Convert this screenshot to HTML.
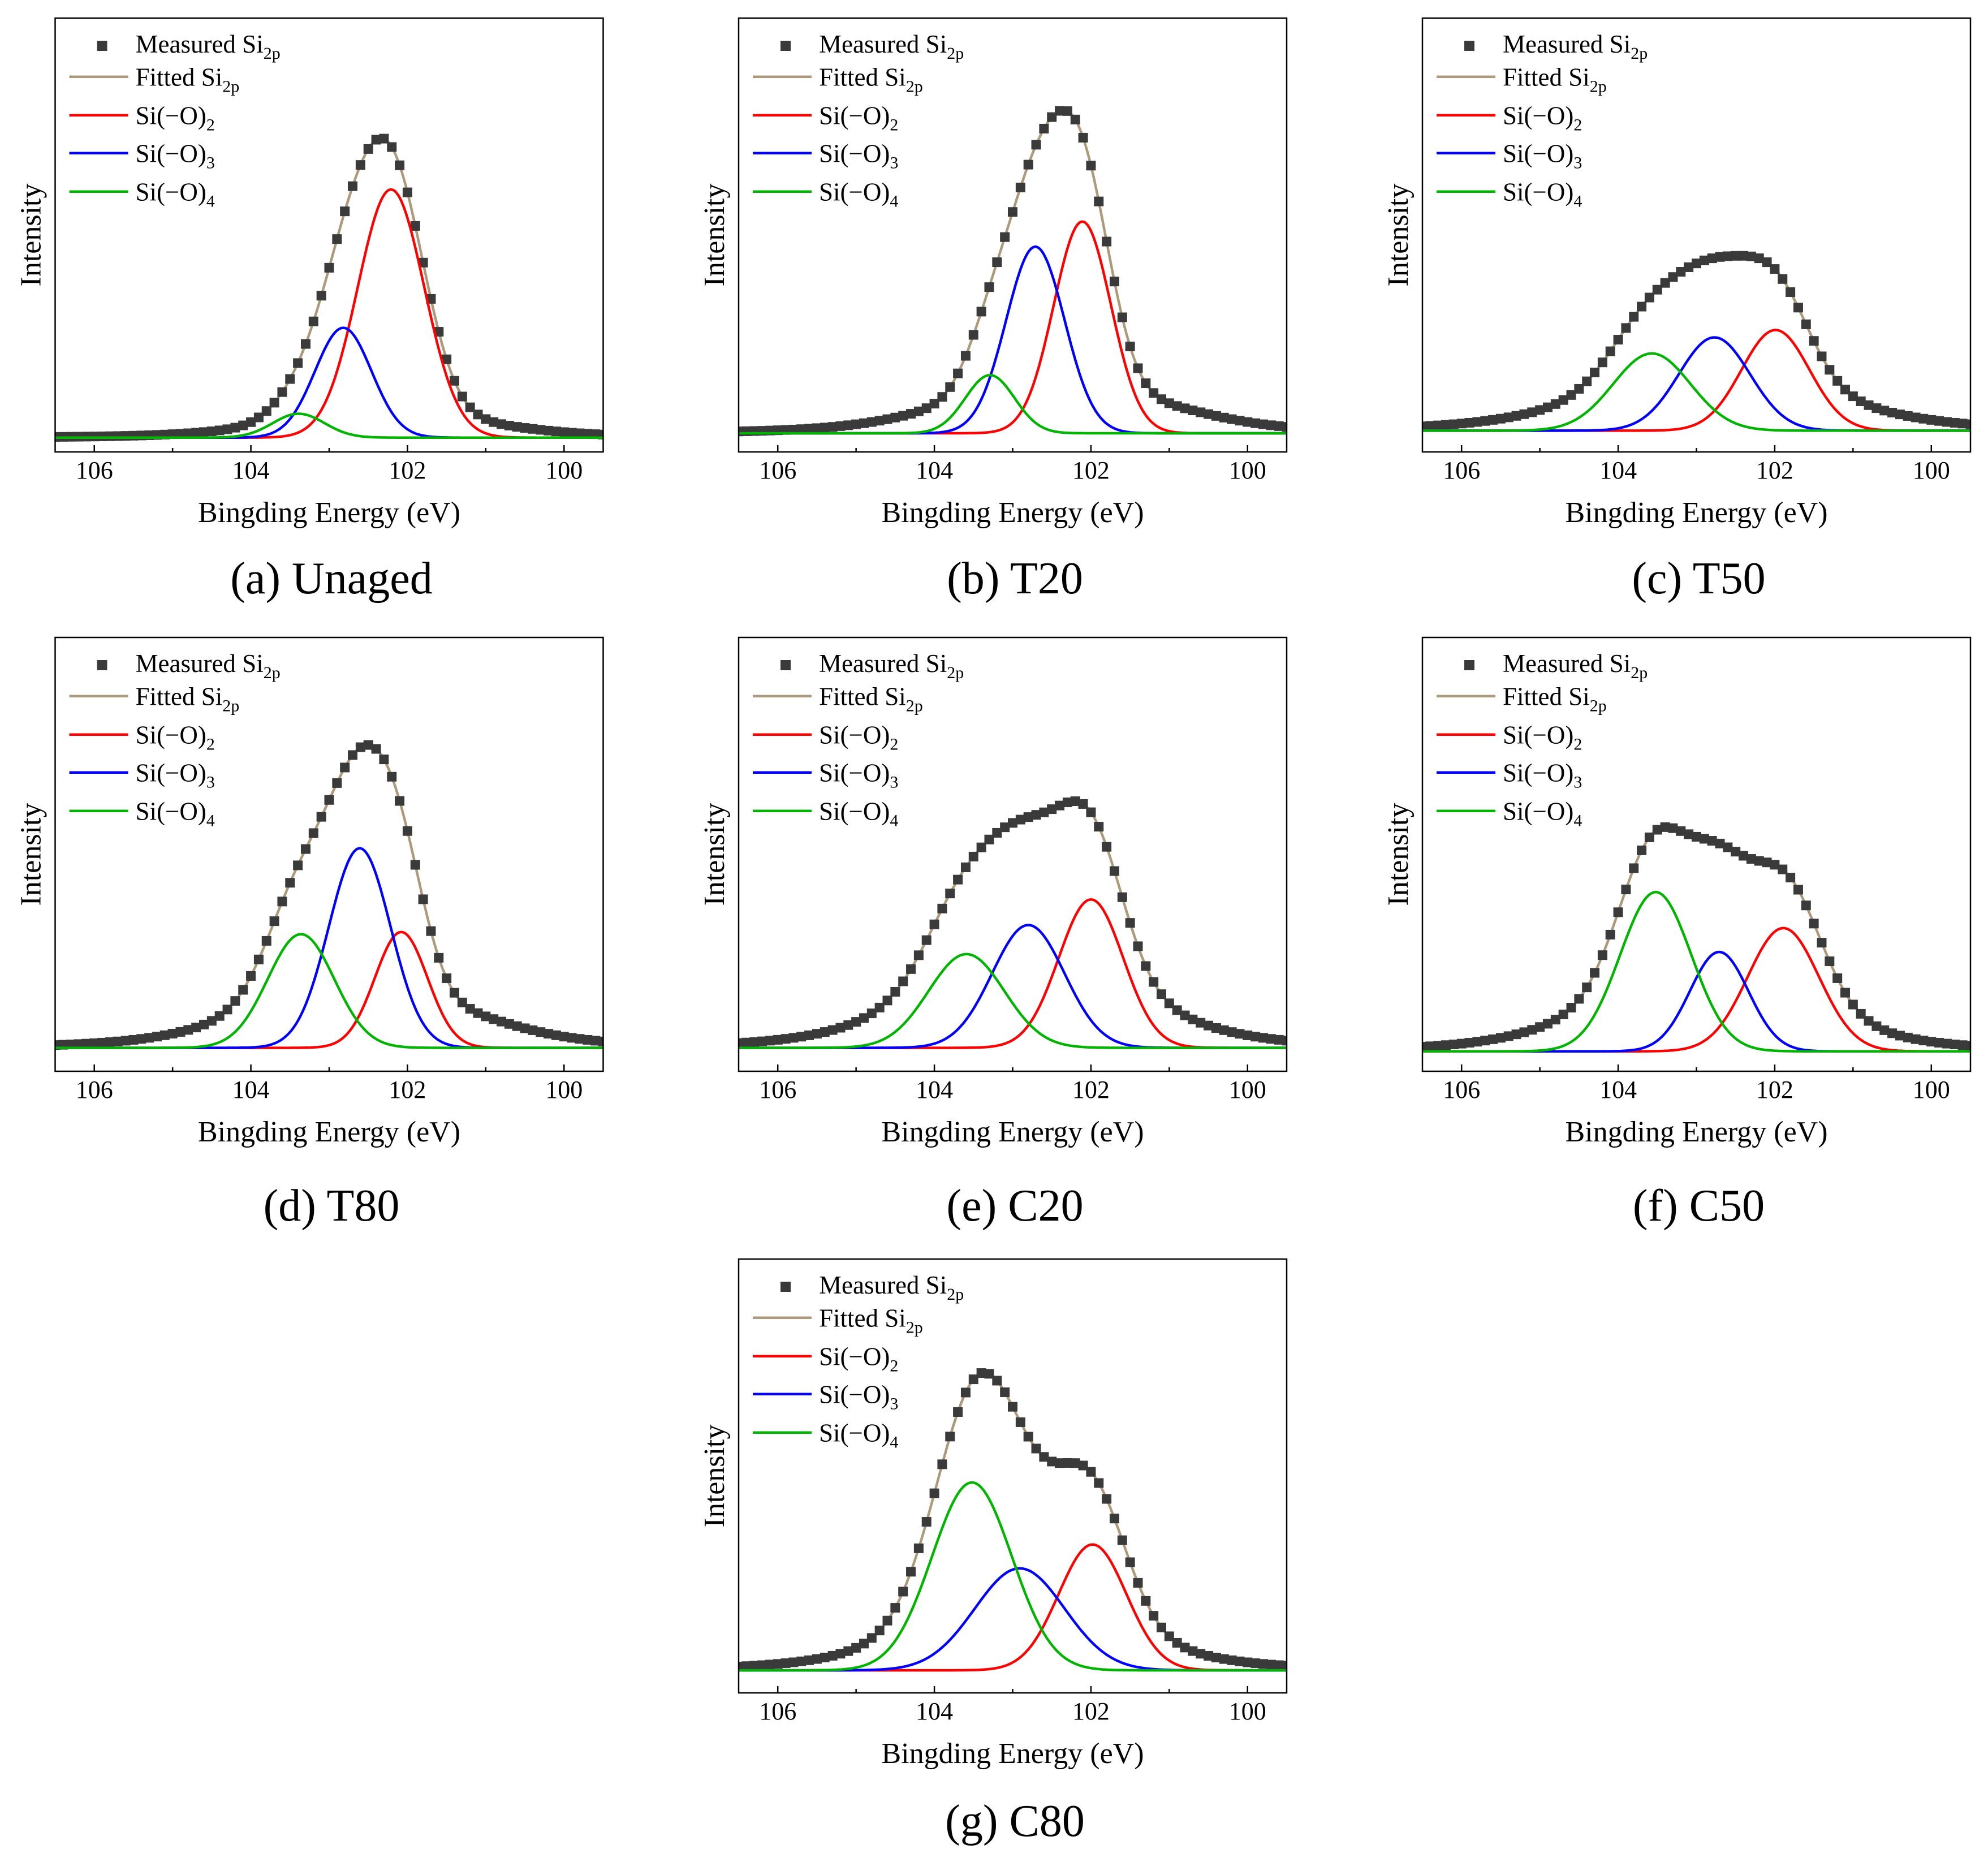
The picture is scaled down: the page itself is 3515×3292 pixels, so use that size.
<!DOCTYPE html>
<html>
<head>
<meta charset="utf-8">
<style>
html,body{margin:0;padding:0;background:#fff;}
svg{display:block;}
text{font-family:"Liberation Serif","Times New Roman",serif;fill:#000;}
</style>
</head>
<body>
<svg id="fig" width="3515" height="3292" viewBox="0 0 3515 3292" xmlns="http://www.w3.org/2000/svg">
<rect width="3515" height="3292" fill="#fff"/>
</svg>
<script>
// ---- data ----
const panelIds   = ['a','b','c','d','e','f','g'];
const captions   = ['(a) Unaged','(b) T20','(c) T50','(d) T80','(e) C20','(f) C50','(g) C80'];
const xTicks     = [106,104,102,100];
const xMinorTicks= [105,103,101];
const baseline   = [3.3, 4.3, 4.9, 5.4, 5.4, 4.6, 5.2];
// Si(-O)2 component
const redCenter  = [102.21,102.11,101.99,102.08,102.00,101.89,101.98];
const redAmp     = [57.2, 48.8, 23.2, 26.7, 34.2, 28.4, 29.0];
const redFwhm    = [1.00, 0.86, 1.02, 0.79, 0.97, 1.07, 1.02];
// Si(-O)3 component
const blueCenter = [102.82,102.71,102.77,102.61,102.80,102.71,102.91];
const blueAmp    = [25.3, 43.0, 21.5, 46.0, 28.3, 22.9, 23.5];
const blueFwhm   = [0.85, 0.88, 1.07, 0.93, 1.09, 0.88, 1.35];
// Si(-O)4 component
const greenCenter= [103.39,103.29,103.57,103.36,103.59,103.52,103.52];
const greenAmp   = [5.5, 13.4, 17.8, 26.2, 21.6, 36.7, 43.3];
const greenFwhm  = [0.78, 0.74, 1.16, 1.00, 1.14, 1.07, 1.20];
// background tail under the envelope
const tailAmp    = [4, 8, 9, 10, 14, 12, 10];
const tailCenter = [102.3,102.4,102.8,102.6,102.8,102.9,102.9];
const tailWidth  = [1.9, 2.0, 2.2, 2.0, 2.0, 2.0, 2.0];

// ---- layout ----
const NS='http://www.w3.org/2000/svg';
const svg=document.getElementById('fig');
const colLeft=[97.5,1306,2515], rowTop=[32,1127,2226], capOff=[250,264,253];
const PW=969, PH=767, XMAX=106.5, XMIN=99.5;
const slots=[[0,0],[1,0],[2,0],[0,1],[1,1],[2,1],[1,2]];

function mk(tag,attrs,parent){const e=document.createElementNS(NS,tag);for(const k in attrs)e.setAttribute(k,attrs[k]);(parent||svg).appendChild(e);return e;}
function gauss(x,c,a,w){const d=(x-c)/w;return a*Math.exp(-2.7726*d*d);}

panelIds.forEach((id,i)=>{
  const L=colLeft[slots[i][0]], T=rowTop[slots[i][1]], B=T+PH;
  const xs=v=>L+(XMAX-v)/(XMAX-XMIN)*PW;
  const ys=v=>T+PH*(1-v/100);
  const g=mk('g',{});
  
  
  const comp=(x)=>[gauss(x,redCenter[i],redAmp[i],redFwhm[i]),gauss(x,blueCenter[i],blueAmp[i],blueFwhm[i]),gauss(x,greenCenter[i],greenAmp[i],greenFwhm[i])];
  const total=(x)=>{const c=comp(x);const d=(x-tailCenter[i])/tailWidth[i];return baseline[i]+c[0]+c[1]+c[2]+tailAmp[i]/(1+d*d*d*d);};
  const cp=mk('clipPath',{id:'clip'+id},g);
  mk('rect',{x:L,y:T,width:PW,height:PH},cp);
  const plot=mk('g',{'clip-path':'url(#clip'+id+')'},g);
  const lineDef=[['fitted-line','#ab9a7c',x=>total(x)],['si-o2-line','#ff0000',x=>baseline[i]+comp(x)[0]],['si-o3-line','#0000ff',x=>baseline[i]+comp(x)[1]],['si-o4-line','#00b400',x=>baseline[i]+comp(x)[2]]];
  const drawLine=(s)=>{let d='';for(let k=0;k<=350;k++){const x=XMAX-k*0.02;d+=(k?'L':'M')+xs(x).toFixed(1)+' '+ys(s[2](x)).toFixed(1);}
    const p=mk('path',{d:d,fill:'none',stroke:s[1],'stroke-width':4.5,'stroke-linejoin':'round'},plot);
    
    
  };
  drawLine(lineDef[0]);
  // measured squares (on top of fitted line)
  const mg=mk('g',{},plot);
  
  
  for(let k=0;k<=70;k++){const x=XMAX-k*0.1;const v=total(x);
    const r=mk('rect',{x:xs(x)-8.5,y:ys(v)-8.5,width:17,height:17,fill:'#3a3a3a'},mg);
    
    
  }
  lineDef.slice(1).forEach(drawLine);
  // frame
  const fr=mk('rect',{x:L,y:T,width:PW,height:PH,fill:'none',stroke:'#000','stroke-width':2.5},g);
  
  
  xTicks.forEach(t=>{mk('line',{x1:xs(t),x2:xs(t),y1:B,y2:B-12,stroke:'#000','stroke-width':2.5},g);
    const tl=mk('text',{x:xs(t),y:B+47,'font-size':44,'text-anchor':'middle'},g);tl.textContent=t;
    
    
  });
  xMinorTicks.forEach(t=>mk('line',{x1:xs(t),x2:xs(t),y1:B,y2:B-7,stroke:'#000','stroke-width':2.5},g));
  const xt=mk('text',{x:L+PW/2,y:B+124,'font-size':52,'text-anchor':'middle'},g);xt.textContent='Bingding Energy (eV)';
  
  
  const yt=mk('text',{x:0,y:0,'font-size':52,'text-anchor':'middle',transform:'translate('+(L-26)+','+(T+PH/2)+') rotate(-90)'},g);yt.textContent='Intensity';
  
  
  const cap=mk('text',{x:L+PW/2+4,y:B+capOff[slots[i][1]],'font-size':80,'text-anchor':'middle'},g);cap.textContent=captions[i];
  
  
  // legend
  const lg=mk('g',{},g);
  
  
  mk('rect',{x:L+83-9,y:T+49-9,width:18,height:18,fill:'#3a3a3a'},lg);
  const ent=[['Measured Si','2p',61,null],['Fitted Si','2p',119.4,'#ab9a7c'],['Si(\u2212O)','2',187.4,'#ff0000'],['Si(\u2212O)','3',254.4,'#0000ff'],['Si(\u2212O)','4',322.4,'#00b400']];
  ent.forEach(e=>{
    if(e[3])mk('line',{x1:L+25,x2:L+129,y1:T+e[2]-15.6,y2:T+e[2]-15.6,stroke:e[3],'stroke-width':4.5},lg);
    const t=mk('text',{x:L+142,y:T+e[2],'font-size':45},lg);
    
    
    const a=mk('tspan',{},t);a.textContent=e[0];
    const b=mk('tspan',{'font-size':30,dy:11},t);b.textContent=e[1];
  });
});
</script>
</body>
</html>
